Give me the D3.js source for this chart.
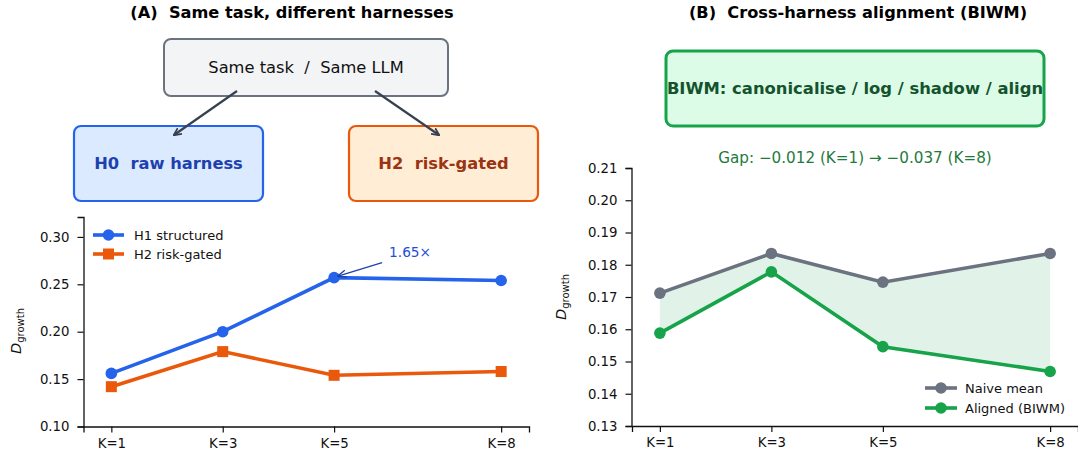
<!DOCTYPE html>
<html><head><meta charset="utf-8">
<script src="https://cdn.jsdelivr.net/npm/d3@7"></script>
<style>body{margin:0;background:#fff}svg{display:block;font-family:"DejaVu Sans",sans-serif}svg text{white-space:pre}</style>
</head><body><svg id="c" width="1078" height="461"></svg>
<script>
const kValues = [1, 3, 5, 8];
const kLabels = ["K=1", "K=3", "K=5", "K=8"];
const h1Structured = [0.156, 0.200, 0.257, 0.254];
const h2RiskGated = [0.142, 0.179, 0.154, 0.158];
const naiveMean = [0.1712, 0.1835, 0.1746, 0.1835];
const alignedBiwm = [0.1588, 0.1778, 0.1546, 0.1469];
const leftYTicks = [0.10, 0.15, 0.20, 0.25, 0.30];
const rightYTicks = [0.13, 0.14, 0.15, 0.16, 0.17, 0.18, 0.19, 0.20, 0.21];

const svg = d3.select("#c");
const C = {blue:"#2563eb", orange:"#ea580c", gray:"#6b7280", green:"#16a34a"};

svg.append("defs").html(`
<marker id="ah" viewBox="0 0 10 10" refX="9" refY="5" markerWidth="8" markerHeight="8" orient="auto" markerUnits="userSpaceOnUse"><path d="M0,0.5 L9.5,5 L0,9.5" fill="none" stroke="#374151" stroke-width="2.2"/></marker>
<marker id="ab" viewBox="0 0 10 10" refX="9" refY="5" markerWidth="9" markerHeight="9" orient="auto" markerUnits="userSpaceOnUse"><path d="M0,1 L10,5 L0,9" fill="none" stroke="#1e40af" stroke-width="1.4"/></marker>`);

// titles
svg.append("text").attr("x", 292).attr("y", 18).attr("text-anchor","middle").attr("font-weight","bold").attr("font-size",16.2).text("(A)  Same task, different harnesses");
svg.append("text").attr("x", 858).attr("y", 18).attr("text-anchor","middle").attr("font-weight","bold").attr("font-size",16.2).text("(B)  Cross-harness alignment (BIWM)");

// diagram boxes
function box(x,y,w,h,fill,stroke,sw,txt,col,bold,fs){
  svg.append("rect").attr("x",x).attr("y",y).attr("width",w).attr("height",h).attr("rx",7)
    .attr("fill",fill).attr("stroke",stroke).attr("stroke-width",sw);
  svg.append("text").attr("x",x+w/2).attr("y",y+h/2).attr("dy","0.35em").attr("text-anchor","middle")
    .attr("font-size",fs).attr("font-weight",bold?"bold":"normal").attr("fill",col).text(txt);
}
box(164,39,284,57,"#f3f4f6","#6b7280",2,"Same task  /  Same LLM","#111",false,16.3);
box(74,126,189,75,"#dbeafe","#2563eb",2.2,"H0  raw harness","#1e40af",true,16.3);
box(349,126,189,75,"#ffedd5","#ea580c",2.2,"H2  risk-gated","#9a3412",true,16.3);
svg.append("line").attr("x1",237).attr("y1",91).attr("x2",174).attr("y2",135).attr("stroke","#374151").attr("stroke-width",2.2).attr("marker-end","url(#ah)");
svg.append("line").attr("x1",375).attr("y1",91).attr("x2",439).attr("y2",135).attr("stroke","#374151").attr("stroke-width",2.2).attr("marker-end","url(#ah)");
box(666,51,378,75,"#dcfce7","#16a34a",3,"BIWM: canonicalise / log / shadow / align","#14532d",true,16.4);
svg.append("text").attr("x",855).attr("y",163).attr("text-anchor","middle").attr("font-size",15.2).attr("fill","#1f7a3d")
  .text("Gap: \u22120.012 (K=1) \u2192 \u22120.037 (K=8)");

function yLabel(x,y){
  const t = svg.append("text").attr("transform",`translate(${x},${y}) rotate(-90)`).attr("text-anchor","middle").attr("font-size",14.5).attr("fill","#111");
  t.append("tspan").attr("font-style","italic").text("D");
  t.append("tspan").attr("font-size",10).attr("dy",3).text("growth");
}

function axes(g, x, y, yTicks, fmt, x0, y0){
  const xa = g.append("g").attr("transform",`translate(0,${y0})`)
    .call(d3.axisBottom(x).tickValues(kValues).tickFormat((d,i)=>kLabels[i]).tickSizeOuter(0).tickSize(6).tickPadding(6));
  const ya = g.append("g").attr("transform",`translate(${x0},0)`)
    .call(d3.axisLeft(y).tickValues(yTicks).tickFormat(fmt).tickSizeOuter(0).tickSize(6).tickPadding(8));
  [xa,ya].forEach(a=>{a.selectAll("text").attr("font-size",13.3).attr("fill","#111").attr("font-family","DejaVu Sans");
    a.selectAll("line").attr("stroke","#111").attr("stroke-width",1.2);
    a.select(".domain").attr("stroke","#111").attr("stroke-width",1.3);});
}

// LEFT
{
  const x = d3.scaleLinear().domain([0.5,8.5]).range([83.5,529]);
  const y = d3.scaleLinear().domain([0.10,0.321]).range([426.5,217]);
  const g = svg.append("g");
  axes(g,x,y,leftYTicks,d3.format(".2f"),83.5,426.5);
  const line = d3.line().x((d,i)=>x(kValues[i])).y(d=>y(d));
  g.append("path").datum(h2RiskGated).attr("d",line).attr("fill","none").attr("stroke",C.orange).attr("stroke-width",3.6);
  g.selectAll(".sq").data(h2RiskGated).enter().append("rect").attr("x",(d,i)=>x(kValues[i])-5.5).attr("y",d=>y(d)-5.5).attr("width",11).attr("height",11).attr("fill",C.orange);
  g.append("path").datum(h1Structured).attr("d",line).attr("fill","none").attr("stroke",C.blue).attr("stroke-width",3.6);
  g.selectAll(".ci").data(h1Structured).enter().append("circle").attr("cx",(d,i)=>x(kValues[i])).attr("cy",d=>y(d)).attr("r",5.8).attr("fill",C.blue);
  // annotation
  const ax = x(5), ay = y(h1Structured[2]);
  g.append("line").attr("x1",ax+48).attr("y1",ay-15).attr("x2",ax+4).attr("y2",ay-1.5).attr("stroke","#1e40af").attr("stroke-width",1.3).attr("marker-end","url(#ab)");
  g.append("text").attr("x",ax+55).attr("y",ay-21).attr("font-size",13.7).attr("fill","#1d4ed8").text("1.65\u00d7");
  // legend
  const lg = g.append("g");
  [[C.blue,"H1 structured","c"],[C.orange,"H2 risk-gated","s"]].forEach((r,i)=>{
    const yy = 235+i*19;
    lg.append("line").attr("x1",93).attr("x2",124).attr("y1",yy).attr("y2",yy).attr("stroke",r[0]).attr("stroke-width",3.6);
    if(r[2]==="c") lg.append("circle").attr("cx",108.5).attr("cy",yy).attr("r",5.8).attr("fill",r[0]);
    else lg.append("rect").attr("x",103).attr("y",yy-5.5).attr("width",11).attr("height",11).attr("fill",r[0]);
    lg.append("text").attr("x",134).attr("y",yy).attr("dy","0.35em").attr("font-size",13).attr("fill","#111").text(r[1]);
  });
  yLabel(21,331);
}

// RIGHT
{
  const x = d3.scaleLinear().domain([0.5,8.5]).range([632,1078]);
  const y = d3.scaleLinear().domain([0.13,0.21]).range([426,168]);
  const g = svg.append("g");
  const area = d3.area().x((d,i)=>x(kValues[i])).y0((d,i)=>y(alignedBiwm[i])).y1(d=>y(d));
  g.append("path").datum(naiveMean).attr("d",area).attr("fill",C.green).attr("fill-opacity",0.13);
  axes(g,x,y,rightYTicks,d3.format(".2f"),631.5,426);
  const line = d3.line().x((d,i)=>x(kValues[i])).y(d=>y(d));
  [[naiveMean,C.gray],[alignedBiwm,C.green]].forEach(([s,c])=>{
    g.append("path").datum(s).attr("d",line).attr("fill","none").attr("stroke",c).attr("stroke-width",3.6);
    g.selectAll(null).data(s).enter().append("circle").attr("cx",(d,i)=>x(kValues[i])).attr("cy",d=>y(d)).attr("r",5.8).attr("fill",c);
  });
  [[C.gray,"Naive mean"],[C.green,"Aligned (BIWM)"]].forEach((r,i)=>{
    const yy = 388+i*20;
    g.append("line").attr("x1",925).attr("x2",957).attr("y1",yy).attr("y2",yy).attr("stroke",r[0]).attr("stroke-width",3.6);
    g.append("circle").attr("cx",941).attr("cy",yy).attr("r",5.8).attr("fill",r[0]);
    g.append("text").attr("x",965).attr("y",yy).attr("dy","0.35em").attr("font-size",13).attr("fill","#111").text(r[1]);
  });
  yLabel(566,297);
}
</script></body></html>
